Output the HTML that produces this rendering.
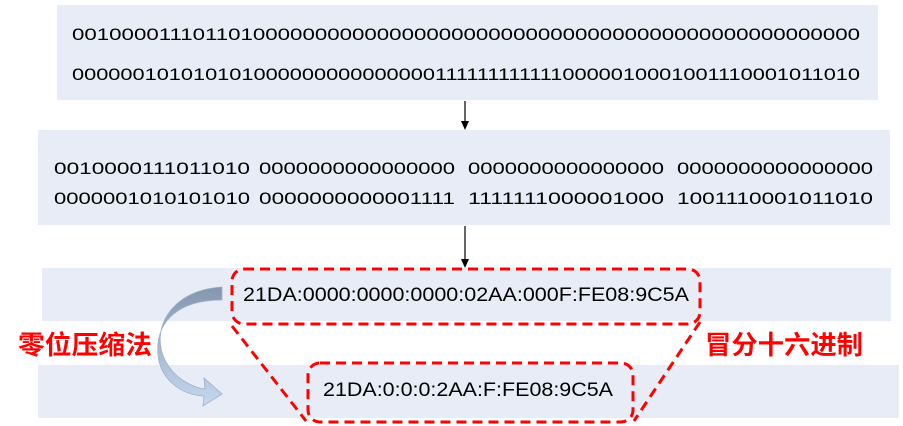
<!DOCTYPE html>
<html><head><meta charset="utf-8"><style>body{margin:0;background:#fff}svg{display:block}</style></head>
<body>
<svg width="903" height="426" xmlns="http://www.w3.org/2000/svg" font-family="Liberation Sans, sans-serif">
<defs>
<linearGradient id="cg" x1="0" y1="0" x2="0" y2="1"><stop offset="0" stop-color="#8496ad"/><stop offset="1" stop-color="#c5d8ef"/></linearGradient>
</defs>
<rect x="57" y="5" width="821" height="95" fill="#e7ecf6"/>
<rect x="38" y="130" width="852" height="95" fill="#e7ecf6"/>
<rect x="42" y="268" width="849" height="53" fill="#e7ecf6"/>
<rect x="38" y="365" width="861" height="53" fill="#e7ecf6"/>
<g font-size="17" fill="#000">
<text x="72" y="40" textLength="788" lengthAdjust="spacingAndGlyphs">0010000111011010000000000000000000000000000000000000000000000000</text>
<text x="72" y="80" textLength="788" lengthAdjust="spacingAndGlyphs">0000001010101010000000000000001111111111110000010001001110001011010</text>
<text x="54" y="174" textLength="196" lengthAdjust="spacingAndGlyphs">0010000111011010</text>
<text x="259" y="174" textLength="196" lengthAdjust="spacingAndGlyphs">0000000000000000</text>
<text x="468" y="174" textLength="196" lengthAdjust="spacingAndGlyphs">0000000000000000</text>
<text x="677" y="174" textLength="196" lengthAdjust="spacingAndGlyphs">0000000000000000</text>
<text x="54" y="204" textLength="196" lengthAdjust="spacingAndGlyphs">0000001010101010</text>
<text x="259" y="204" textLength="196" lengthAdjust="spacingAndGlyphs">0000000000001111</text>
<text x="468" y="204" textLength="196" lengthAdjust="spacingAndGlyphs">1111111000001000</text>
<text x="677" y="204" textLength="196" lengthAdjust="spacingAndGlyphs">1001110001011010</text>
<text x="243" y="301" font-size="19" textLength="446" lengthAdjust="spacingAndGlyphs">21DA:0000:0000:0000:02AA:000F:FE08:9C5A</text>
<text x="323" y="396" font-size="19" textLength="290" lengthAdjust="spacingAndGlyphs">21DA:0:0:0:2AA:F:FE08:9C5A</text>
</g>
<line x1="465" y1="101" x2="465" y2="122" stroke="#000" stroke-width="1.2"/>
<path d="M461,121 L469,121 L465,130 z" fill="#000"/>
<line x1="465" y1="226" x2="465" y2="260" stroke="#000" stroke-width="1.2"/>
<path d="M461,259 L469,259 L465,268 z" fill="#000"/>
<g fill="none" stroke="#f00" stroke-width="3" stroke-dasharray="10,6">
<rect x="232" y="269" width="468" height="55" rx="12"/>
<rect x="308" y="363" width="325" height="59" rx="12"/>
<line x1="232" y1="326" x2="306" y2="421"/>
<line x1="700" y1="322" x2="634" y2="421"/>
</g>
<path d="M222,287 C170,290 150,330 165,360 C175,380 195,388 205,389 L204,378 L222,394 L203,406 L204,396 C180,395 160,378 158,355 C155,320 180,300 222,300 Z" fill="url(#cg)" stroke="#a0b0c8" stroke-width="0.8"/>
<g font-family="Liberation Sans, Noto Sans CJK SC, sans-serif" font-weight="bold" font-size="26" fill="#f00">
<text x="18" y="354" textLength="134" lengthAdjust="spacingAndGlyphs">零位压缩法</text>
<text x="705" y="354" textLength="158" lengthAdjust="spacingAndGlyphs">冒分十六进制</text>
</g>
</svg>
</body></html>
